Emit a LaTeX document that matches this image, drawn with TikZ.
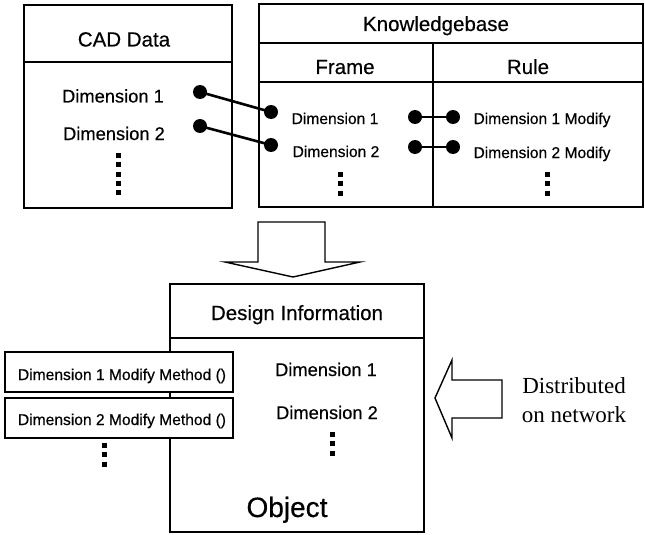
\documentclass[tikz,border=0pt]{standalone}
\usepackage{fontspec}
\setmainfont{Liberation Sans}[FakeBold=0.4]
\newfontfamily\serifface{Liberation Serif}
\begin{document}
\begin{tikzpicture}[x=1pt,y=-1pt,
  frameline/.style={line width=1.7pt},
  lbl/.style={inner sep=0pt,anchor=base},
  head/.style={lbl,font=\fontsize{20.5}{22}\selectfont},
  bigtxt/.style={lbl,font=\fontsize{18.3}{20}\selectfont},
  smalltxt/.style={lbl,font=\fontsize{15.6}{17}\selectfont},
  bullet/.style={circle,fill=black,inner sep=0pt,minimum size=14pt},
  link/.style={line width=2.6pt},
  vdots/.style={line width=5pt,dash pattern=on 5pt off 4.3pt},
  bigarrow/.style={line width=1.4pt,line join=miter,fill=white}]
\useasboundingbox (0,0) rectangle (645,535);

% CAD data table
\draw[frameline] (24,5) rectangle (232,208);
\draw[frameline] (24,62) -- (232,62);
\node[head] (cad) at (124,46.5) {CAD Data};
\node[bigtxt] (cd1) at (113,102.5) {Dimension 1};
\node[bigtxt] (cd2) at (114,140) {Dimension 2};
\coordinate (cdt) at (118,153);
\coordinate (cdb) at (118,196);
\draw[vdots] (cdt) -- (cdb);

% Knowledgebase table
\draw[frameline] (259,4) rectangle (643,207);
\draw[frameline] (259,43) -- (643,43);
\draw[frameline] (259,82) -- (643,82);
\draw[frameline] (433,43) -- (433,207);
\node[head] (kb) at (436,31) {Knowledgebase};
\node[head] (frm) at (345,74) {Frame};
\node[head] (rule) at (528,74) {Rule};
\node[smalltxt] (fd1) at (335,124) {Dimension 1};
\node[smalltxt] (fd2) at (336,157) {Dimension 2};
\node[smalltxt] (rd1) at (542,124) {Dimension 1 Modify};
\node[smalltxt] (rd2) at (542,158) {Dimension 2 Modify};
\coordinate (fdt) at (340,172);
\coordinate (fdb) at (340,198);
\draw[vdots] (fdt) -- (fdb);
\coordinate (rdt) at (547,172);
\coordinate (rdb) at (547,198);
\draw[vdots] (rdt) -- (rdb);

% links between entries
\node[bullet] (a1) at (200,92) {};
\node[bullet] (a2) at (200,126) {};
\node[bullet] (b1) at (271,112) {};
\node[bullet] (b2) at (271,145) {};
\node[bullet] (c1) at (415,117) {};
\node[bullet] (c2) at (415,147) {};
\node[bullet] (d1) at (453,117) {};
\node[bullet] (d2) at (453,147) {};
\draw[link] (a1.center) -- (b1.center);
\draw[link] (a2.center) -- (b2.center);
\draw[link] (c1.center) -- (d1.center);
\draw[link] (c2.center) -- (d2.center);

% downward block arrow
\draw[bigarrow] (258,222) -- (325,222) -- (325,262) -- (360,262) -- (293,277)
  -- (225,262) -- (258,262) -- cycle;

% object
\draw[frameline] (170,284) rectangle (424,532);
\draw[frameline] (170,338) -- (424,338);
\node[head] (di) at (297,320) {Design Information};
\node[bigtxt] (od1) at (326,376) {Dimension 1};
\node[bigtxt] (od2) at (327,419) {Dimension 2};
\coordinate (odt) at (332,432);
\coordinate (odb) at (332,458);
\draw[vdots] (odt) -- (odb);
\node[lbl,font=\fontsize{28}{30}\selectfont] (obj) at (287,517) {Object};

% method boxes
\draw[frameline,fill=white] (5,352) rectangle (233,392);
\draw[frameline,fill=white] (5,398) rectangle (233,438);
\node[smalltxt] (m1) at (122,380) {Dimension 1 Modify Method ()};
\node[smalltxt] (m2) at (122,425) {Dimension 2 Modify Method ()};
\coordinate (mdt) at (104,443);
\coordinate (mdb) at (104,467);
\draw[vdots] (mdt) -- (mdb);

% leftward block arrow
\draw[bigarrow] (502,380) -- (452,380) -- (452,360) -- (435,398) -- (452,438)
  -- (452,418) -- (502,418) -- cycle;
\node[lbl,font=\serifface\fontsize{23}{25}\selectfont] (dist) at (574,393) {Distributed};
\node[lbl,font=\serifface\fontsize{23}{25}\selectfont] (net) at (574,422) {on network};
\end{tikzpicture}
\end{document}
